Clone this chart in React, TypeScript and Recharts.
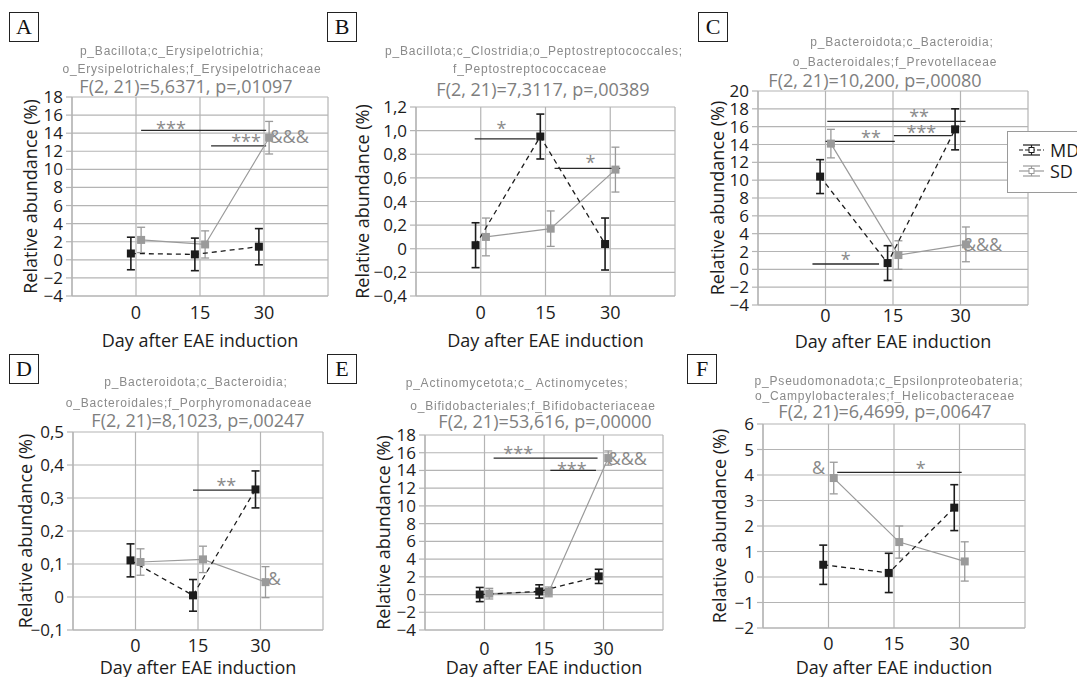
import {
  LineChart, Line, XAxis, YAxis, CartesianGrid, ErrorBar, ReferenceLine, ReferenceDot, Legend,
} from 'recharts'

const DAYS = [0, 15, 30]
const GROUPS = ['MD', 'SD']

// A - Erysipelotrichaceae
const A_TAXON = ['p_Bacillota;c_Erysipelotrichia;', 'o_Erysipelotrichales;f_Erysipelotrichaceae']
const A_STAT = 'F(2, 21)=5,6371, p=,01097'
const A_Y_TICKS = [-4, -2, 0, 2, 4, 6, 8, 10, 12, 14, 16, 18]
const A_MD = [0.7, 0.6, 1.45]
const A_MD_ERR = [1.8, 1.8, 2.0]
const A_SD = [2.2, 1.7, 13.5]
const A_SD_ERR = [1.4, 1.5, 1.8]
const A_BARS = [{ x1: 1.2, x2: 30.5, y: 14.3 }, { x1: 17.6, x2: 30.5, y: 12.6 }]
const A_MARKS = [{ x: 8.2, y: 15.0, text: '***' }, { x: 25.8, y: 13.5, text: '***' }, { x: 35.9, y: 13.6, text: '&&&' }]

// B - Peptostreptococcaceae
const B_TAXON = ['p_Bacillota;c_Clostridia;o_Peptostreptococcales;', 'f_Peptostreptococcaceae']
const B_STAT = 'F(2, 21)=7,3117, p=,00389'
const B_Y_TICKS = [-0.4, -0.2, 0, 0.2, 0.4, 0.6, 0.8, 1.0, 1.2]
const B_MD = [0.03, 0.95, 0.04]
const B_MD_ERR = [0.19, 0.19, 0.22]
const B_SD = [0.1, 0.17, 0.67]
const B_SD_ERR = [0.16, 0.15, 0.19]
const B_BARS = [{ x1: -1.4, x2: 12.7, y: 0.93 }, { x1: 17.1, x2: 32.3, y: 0.68 }]
const B_MARKS = [{ x: 4.8, y: 1.05, text: '*' }, { x: 25.4, y: 0.76, text: '*' }]

// C - Prevotellaceae
const C_TAXON = ['p_Bacteroidota;c_Bacteroidia;', 'o_Bacteroidales;f_Prevotellaceae']
const C_STAT = 'F(2, 21)=10,200, p=,00080'
const C_Y_TICKS = [-4, -2, 0, 2, 4, 6, 8, 10, 12, 14, 16, 18, 20]
const C_MD = [10.4, 0.7, 15.7]
const C_MD_ERR = [1.9, 1.95, 2.3]
const C_SD = [14.1, 1.6, 2.8]
const C_SD_ERR = [1.6, 1.6, 1.95]
const C_BARS = [
  { x1: 0.4, x2: 31.1, y: 16.6 }, { x1: 0, x2: 15.4, y: 14.35 },
  { x1: 15.2, x2: 28, y: 15.0 }, { x1: -2.9, x2: 11.9, y: 0.6 },
]
const C_MARKS = [
  { x: 20.8, y: 17.6, text: '**' }, { x: 10.1, y: 15.2, text: '**' },
  { x: 21.3, y: 15.8, text: '***' }, { x: 4.5, y: 1.5, text: '*' }, { x: 34.9, y: 2.8, text: '&&&' },
]

// D - Porphyromonadaceae
const D_TAXON = ['p_Bacteroidota;c_Bacteroidia;', 'o_Bacteroidales;f_Porphyromonadaceae']
const D_STAT = 'F(2, 21)=8,1023, p=,00247'
const D_Y_TICKS = [-0.1, 0, 0.1, 0.2, 0.3, 0.4, 0.5]
const D_MD = [0.111, 0.005, 0.326]
const D_MD_ERR = [0.05, 0.048, 0.056]
const D_SD = [0.106, 0.114, 0.045]
const D_SD_ERR = [0.04, 0.04, 0.047]
const D_BARS = [{ x1: 13.8, x2: 29.3, y: 0.324 }]
const D_MARKS = [{ x: 21.8, y: 0.35, text: '**' }, { x: 33.3, y: 0.057, text: '&' }]

// E - Bifidobacteriaceae
const E_TAXON = ['p_Actinomycetota;c_ Actinomycetes;', 'o_Bifidobacteriales;f_Bifidobacteriaceae']
const E_STAT = 'F(2, 21)=53,616, p=,00000'
const E_Y_TICKS = [-4, -2, 0, 2, 4, 6, 8, 10, 12, 14, 16, 18]
const E_MD = [0, 0.35, 2.05]
const E_MD_ERR = [0.8, 0.75, 0.8]
const E_SD = [0.1, 0.3, 15.4]
const E_SD_ERR = [0.6, 0.55, 0.8]
const E_BARS = [{ x1: 2.3, x2: 28.5, y: 15.4 }, { x1: 16.6, x2: 28.1, y: 14.0 }]
const E_MARKS = [{ x: 8.5, y: 16.4, text: '***' }, { x: 22, y: 14.6, text: '***' }, { x: 36, y: 15.4, text: '&&&' }]

// F - Helicobacteraceae
const F_TAXON = ['p_Pseudomonadota;c_Epsilonproteobateria;', 'o_Campylobacterales;f_Helicobacteraceae']
const F_STAT = 'F(2, 21)=6,4699, p=,00647'
const F_Y_TICKS = [-2, -1, 0, 1, 2, 3, 4, 5, 6]
const F_MD = [0.48, 0.16, 2.72]
const F_MD_ERR = [0.77, 0.77, 0.9]
const F_SD = [3.88, 1.37, 0.61]
const F_SD_ERR = [0.62, 0.63, 0.77]
const F_BARS = [{ x1: 2.0, x2: 30.5, y: 4.1 }]
const F_MARKS = [{ x: 21.1, y: 4.42, text: '*' }, { x: -2.3, y: 4.3, text: '&' }]

const FONT = '"Open Sans", "Noto Sans", sans-serif'
const INK = '#1c1c1c'
const MD_COLOR = '#1c1c1c'
const SD_COLOR = '#9a9a9a'
const GRID = '#b4b4b4'
const NOTE = '#8a8a8a'

const YAXIS_W = 66
const XAXIS_H = 56
const M_TOP = 12
const M_RIGHT = 16
const SHIFT = 1.2 // MD drawn a bit left of the day, SD a bit right
const TICK_FS = 17

const intFmt = (v: number) => (v < 0 ? '\u2212' : '') + Math.abs(v)
const decFmt = (v: number) =>
  Math.abs(v) < 1e-9 ? '0' : (v < 0 ? '\u2212' : '') + Math.abs(v).toFixed(1).replace('.', ',')

const toSeries = (vals: number[], errs: number[], shift: number) =>
  DAYS.map((d, i) => ({ x: d + shift, y: vals[i], err: errs[i] }))

const PANELS = [
  {
    id: 'A', box: [9, 12], taxon: A_TAXON, stat: A_STAT, ticks: A_Y_TICKS, fmt: intFmt,
    md: toSeries(A_MD, A_MD_ERR, -SHIFT), sd: toSeries(A_SD, A_SD_ERR, SHIFT), bars: A_BARS, marks: A_MARKS,
    plot: { l: 72, t: 97, r: 328, b: 296 }, titleX: [172, 192, 186], titleY: [52, 70, 87], yLab: 42, xLab: 44, xTick: 10,
  },
  {
    id: 'B', box: [327, 12], taxon: B_TAXON, stat: B_STAT, ticks: B_Y_TICKS, fmt: decFmt,
    md: toSeries(B_MD, B_MD_ERR, -SHIFT), sd: toSeries(B_SD, B_SD_ERR, SHIFT), bars: B_BARS, marks: B_MARKS,
    plot: { l: 416, t: 107, r: 675, b: 296 }, titleX: [534, 530, 543], titleY: [52, 70, 90], yLab: 54, xLab: 44, xTick: 10,
  },
  {
    id: 'C', box: [698, 12], taxon: C_TAXON, stat: C_STAT, ticks: C_Y_TICKS, fmt: intFmt,
    md: toSeries(C_MD, C_MD_ERR, -SHIFT), sd: toSeries(C_SD, C_SD_ERR, SHIFT), bars: C_BARS, marks: C_MARKS,
    plot: { l: 758, t: 91, r: 1028, b: 305 }, titleX: [902, 895, 875], titleY: [43, 63, 81], yLab: 41, xLab: 36, xTick: 4,
    legend: true,
  },
  {
    id: 'D', box: [9, 354], taxon: D_TAXON, stat: D_STAT, ticks: D_Y_TICKS, fmt: decFmt,
    md: toSeries(D_MD, D_MD_ERR, -SHIFT), sd: toSeries(D_SD, D_SD_ERR, SHIFT), bars: D_BARS, marks: D_MARKS,
    plot: { l: 73, t: 432, r: 323, b: 630 }, titleX: [196, 189, 198], titleY: [383, 404, 421], yLab: 48, xLab: 37, xTick: 9,
  },
  {
    id: 'E', box: [327, 354], taxon: E_TAXON, stat: E_STAT, ticks: E_Y_TICKS, fmt: intFmt,
    md: toSeries(E_MD, E_MD_ERR, -SHIFT), sd: toSeries(E_SD, E_SD_ERR, SHIFT), bars: E_BARS, marks: E_MARKS,
    plot: { l: 425, t: 435, r: 663, b: 630 }, titleX: [517, 533, 545], titleY: [384, 407, 422], yLab: 42, xLab: 37, xTick: 12,
  },
  {
    id: 'F', box: [687, 354], taxon: F_TAXON, stat: F_STAT, ticks: F_Y_TICKS, fmt: intFmt,
    md: toSeries(F_MD, F_MD_ERR, -SHIFT), sd: toSeries(F_SD, F_SD_ERR, SHIFT), bars: F_BARS, marks: F_MARKS,
    plot: { l: 763, t: 424, r: 1025, b: 628 }, titleX: [889, 885, 885], titleY: [382, 397, 412], yLab: 44, xLab: 39, xTick: 9,
  },
]

const square = (color: string) => (props: any) => (
  <rect key={`sq${props.index}`} x={props.cx - 4} y={props.cy - 4} width={8} height={8} fill={color} />
)

function LegendBox({ payload }: any) {
  // keep MD on top like the original figure
  const names: string[] = (payload && payload.length ? payload.map((p: any) => p.value) : GROUPS)
    .slice().sort((a: string, b: string) => GROUPS.indexOf(a) - GROUPS.indexOf(b))
  return (
    <div style={{ width: 92, height: 62, border: '1px solid #9a9a9a', background: '#fff', boxSizing: 'border-box', position: 'relative' }}>
      {names.map((name, i) => {
        const c = name === 'MD' ? MD_COLOR : SD_COLOR
        return (
          <div key={name} style={{ position: 'absolute', left: 11, top: i === 0 ? 8 : 29, height: 20, display: 'flex', alignItems: 'center' }}>
            <svg width={26} height={16}>
              <line x1={0} y1={8} x2={25} y2={8} stroke={c} strokeWidth={1.2} strokeDasharray={name === 'MD' ? '4 2' : undefined} />
              <line x1={4} y1={3} x2={21} y2={3} stroke={c} strokeWidth={1.2} />
              <line x1={4} y1={13} x2={21} y2={13} stroke={c} strokeWidth={1.2} />
              <line x1={12.5} y1={3} x2={12.5} y2={13} stroke={c} strokeWidth={1.2} />
              <rect x={10} y={5.5} width={5} height={5} fill="#fff" stroke={c} strokeWidth={1} />
            </svg>
            <span style={{ marginLeft: 5, fontFamily: FONT, fontSize: 18, color: INK, lineHeight: '20px' }}>{name}</span>
          </div>
        )
      })}
    </div>
  )
}

function Panel({ p }: { p: any }) {
  const plotW = p.plot.r - p.plot.l
  const plotH = p.plot.b - p.plot.t
  const W = plotW + YAXIS_W + M_RIGHT
  const H = plotH + M_TOP + XAXIS_H
  const left = p.plot.l - YAXIS_W
  const top = p.plot.t - M_TOP
  const ticks: number[] = p.ticks

  const yLabel = () => {
    const x = YAXIS_W - p.yLab
    const y = M_TOP + plotH / 2
    return (
      <text x={x} y={y} transform={`rotate(-90 ${x} ${y})`} textAnchor="middle" dominantBaseline="central"
        fill={INK} fontSize={18} fontFamily={FONT}>Relative abundance (%)</text>
    )
  }
  const xLabel = () => (
    <text x={YAXIS_W + plotW / 2} y={M_TOP + plotH + p.xLab} textAnchor="middle" dominantBaseline="central"
      fill={INK} fontSize={18} fontFamily={FONT}>Day after EAE induction</text>
  )

  return (
    <>
      <div style={{
        position: 'absolute', left: p.box[0], top: p.box[1], width: 30, height: 30, boxSizing: 'border-box',
        border: '1.3px solid #222', fontFamily: '"Liberation Serif", serif', fontSize: 22, lineHeight: '28px',
        textAlign: 'center', color: '#111',
      }}>{p.id}</div>
      {p.taxon.map((t: string, i: number) => (
        <div key={t} style={{
          position: 'absolute', left: p.titleX[i] - 200, width: 400, top: p.titleY[i] - 8, textAlign: 'center',
          fontFamily: '"Liberation Sans", Arial, sans-serif', fontSize: 12, letterSpacing: 0.8, lineHeight: '14px',
          color: NOTE, filter: 'blur(0.35px)', whiteSpace: 'nowrap',
        }}>{t}</div>
      ))}
      <div style={{
        position: 'absolute', left: p.titleX[2] - 200, width: 400, top: p.titleY[2] - 10, textAlign: 'center',
        fontFamily: FONT, fontSize: 18, lineHeight: '18px', color: '#7e7e7e', whiteSpace: 'nowrap',
      }}>{p.stat}</div>

      <div style={{ position: 'absolute', left, top }}>
        <LineChart width={W} height={H} margin={{ top: M_TOP, right: M_RIGHT, bottom: 0, left: 0 }}>
          <CartesianGrid stroke={GRID} strokeWidth={1.2} />
          <XAxis type="number" dataKey="x" domain={[-15, 45]} ticks={DAYS} interval={0} allowDataOverflow
            height={XAXIS_H} tickSize={0} tickMargin={p.xTick} axisLine={{ stroke: GRID, strokeWidth: 1.2 }}
            tick={{ fill: INK, fontSize: 18, fontFamily: FONT }} label={xLabel} />
          <YAxis type="number" domain={[ticks[0], ticks[ticks.length - 1]]} ticks={ticks} interval={0} allowDataOverflow
            width={YAXIS_W} tickSize={6} tickMargin={3} tickFormatter={p.fmt}
            axisLine={{ stroke: GRID, strokeWidth: 1.2 }} tickLine={{ stroke: GRID, strokeWidth: 1.2 }}
            tick={{ fill: INK, fontSize: TICK_FS, fontFamily: FONT }} label={yLabel} />
          {p.bars.map((b: any, i: number) => (
            <ReferenceLine key={`bar${i}`} segment={[{ x: b.x1, y: b.y }, { x: b.x2, y: b.y }]}
              stroke="#2a2a2a" strokeWidth={1.3} />
          ))}
          {p.marks.map((m: any, i: number) => (
            <ReferenceDot key={`mark${i}`} x={m.x} y={m.y} r={0}
              shape={(sp: any) => {
                const star = m.text.startsWith('*')
                const fs = 18
                return (
                  <text x={sp.cx} y={sp.cy + (star ? 0.58 : 0.36) * fs} textAnchor="middle" fill={NOTE}
                    fontSize={fs} fontFamily={FONT}>{m.text}</text>
                )
              }} />
          ))}
          <Line data={p.sd} dataKey="y" name="SD" stroke={SD_COLOR} strokeWidth={1.2} dot={square(SD_COLOR)}
            activeDot={false} isAnimationActive={false} legendType="line">
            <ErrorBar dataKey="err" direction="y" width={4} stroke={SD_COLOR} strokeWidth={1.3} isAnimationActive={false} />
          </Line>
          <Line data={p.md} dataKey="y" name="MD" stroke={MD_COLOR} strokeWidth={1.3} strokeDasharray="5 4"
            dot={square(MD_COLOR)} activeDot={false} isAnimationActive={false} legendType="line">
            <ErrorBar dataKey="err" direction="y" width={4} stroke={MD_COLOR} strokeWidth={1.6} isAnimationActive={false} />
          </Line>
          {p.legend && (
            <Legend layout="vertical" align="center" verticalAlign="middle"
              wrapperStyle={{ left: 1007 - left, top: 131 - top, width: 92, height: 62 }}
              content={(props: any) => <LegendBox payload={props.payload} />} />
          )}
        </LineChart>
      </div>
    </>
  )
}

export default function App() {
  return (
    <div style={{ position: 'absolute', left: 0, top: 0, width: 1077, height: 677, overflow: 'hidden', background: '#fff' }}>
      {PANELS.map(p => <Panel key={p.id} p={p} />)}
    </div>
  )
}
